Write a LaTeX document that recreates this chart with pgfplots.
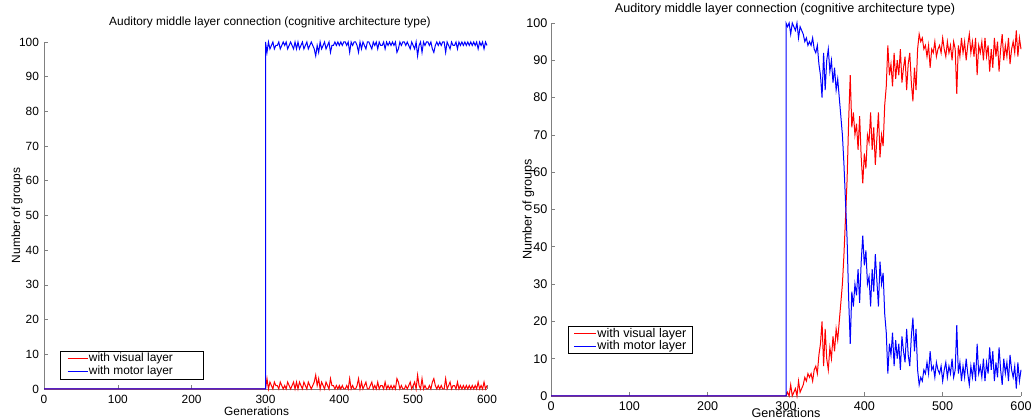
\documentclass[border=0pt]{standalone}
\usepackage{fontspec}
\setmainfont{Liberation Sans}
\usepackage{pgfplots}
\usepackage{pgfplotstable}
\pgfplotsset{compat=1.18}

\pgfplotstableread{
x m v
0 0 0
300 0 0
300 100 0
302 97 3
304 100 0
306 98 2
308 99 1
310 100 0
312 98 2
314 99 1
316 99 1
318 100 0
320 98 2
322 99 1
324 100 0
326 99 1
328 100 0
330 98 2
332 99 1
334 100 0
336 99 1
338 98 2
340 100 0
342 98 2
344 100 0
346 98 2
348 99 1
350 100 0
352 98 2
354 99 1
356 100 0
358 98 2
360 99 1
362 100 0
364 99 1
366 98 2
368 96 4
370 99 1
372 97 3
374 100 0
376 98 2
378 99 1
380 100 0
382 98 2
384 99 1
386 100 0
388 97 3
390 99 1
392 99 1
394 100 0
396 99 1
398 100 0
400 99 1
402 100 0
404 99 1
406 100 0
408 100 0
410 99 1
412 100 0
414 97 3
416 100 0
418 99 1
420 100 0
422 100 0
424 99 1
426 97 3
428 100 0
430 98 2
432 100 0
434 99 1
436 98 2
438 100 0
440 100 0
442 99 1
444 98 2
446 100 0
448 99 1
450 100 0
452 98 2
454 100 0
456 99 1
458 99 1
460 100 0
462 98 2
464 100 0
466 99 1
468 100 0
470 99 1
472 100 0
474 99 1
476 100 0
478 97 3
480 98 2
482 100 0
484 99 1
486 100 0
488 100 0
490 99 1
492 100 0
494 99 1
496 98 2
498 100 0
500 99 1
502 98 2
504 100 0
506 96 4
508 99 1
510 100 0
512 97 3
514 100 0
516 99 1
518 100 0
520 100 0
522 99 1
524 100 0
526 98 2
528 97 3
530 99 1
532 100 0
534 99 1
536 100 0
538 99 1
540 100 0
542 100 0
544 97 3
546 100 0
548 99 1
550 98 2
552 100 0
554 99 1
556 99 1
558 100 0
560 98 2
562 100 0
564 99 1
566 100 0
568 99 1
570 100 0
572 99 1
574 100 0
576 99 1
578 100 0
580 99 1
582 100 0
584 99 1
586 100 0
588 98 2
590 100 0
592 99 1
594 100 0
596 98 2
598 100 0
600 99 1
}\lefttab

\pgfplotstableread{
x m v
0 0 0
300 0 0
300 100 0
302 99 1
304 100 0
306 97 3
308 100 0
310 99 1
312 98 2
314 100 0
316 96 4
318 99 1
320 98 2
322 97 3
324 95 5
326 96 4
328 94 6
330 95 5
332 94 6
334 96 4
336 93 7
338 92 8
340 94 6
342 89 11
344 86 14
346 80 20
348 92 8
350 82 18
352 90 10
354 93 7
356 87 13
358 90 10
360 84 16
362 88 12
364 82 18
366 85 15
368 80 20
370 75 25
372 70 30
374 62 38
376 52 48
378 42 58
380 26 74
382 14 86
384 28 72
386 24 76
388 30 70
390 27 73
392 34 66
394 25 75
396 36 64
398 43 57
400 35 65
402 39 61
404 30 70
406 32 68
408 24 76
410 34 66
412 28 72
414 38 62
416 31 69
418 24 76
420 36 64
422 30 70
424 33 67
426 22 78
428 17 83
430 6 94
432 14 86
434 11 89
436 17 83
438 8 92
440 15 85
442 10 90
444 14 86
446 7 93
448 16 84
450 12 88
452 9 91
454 18 82
456 11 89
458 8 92
460 16 84
462 21 79
464 12 88
466 18 82
468 7 93
470 3 97
472 5 95
474 4 96
476 7 93
478 6 94
480 9 91
482 6 94
484 12 88
486 7 93
488 8 92
490 5 95
492 9 91
494 7 93
496 6 94
498 8 92
500 4 96
502 7 93
504 9 91
506 5 95
508 8 92
510 6 94
512 10 90
514 5 95
516 7 93
518 19 81
520 6 94
522 9 91
524 4 96
526 8 92
528 5 95
530 10 90
532 6 94
534 3 97
536 8 92
538 5 95
540 9 91
542 4 96
544 14 86
546 6 94
548 8 92
550 5 95
552 10 90
554 4 96
556 9 91
558 6 94
560 13 87
562 7 93
564 12 88
566 4 96
568 9 91
570 5 95
572 13 87
574 7 93
576 3 97
578 10 90
580 6 94
582 9 91
584 4 96
586 11 89
588 7 93
590 5 95
592 8 92
594 2 98
596 9 91
598 4 96
600 7 93
}\righttab

\pgfplotsset{
  mstyle/.style={
    scale only axis, anchor=south west,
    xmin=0, xmax=600, ymin=0, ymax=100,
    axis x line=bottom, axis y line=left,
    axis line style={-, black!50},
    tick style={black!50, line width=0.6pt},
    tick align=inside, major tick length=4pt,
    xtick={0,100,...,600}, ytick={0,10,...,100},
    /pgf/number format/assume math mode=true,
    xticklabel style={yshift=-2.5pt},
    clip=false,
    title={Auditory middle layer connection (cognitive architecture type)},
    xlabel={Generations}, ylabel={Number of groups},
    legend cell align=left,
  },
}

\begin{document}
\begin{tikzpicture}
\useasboundingbox (0,0) rectangle (1033pt,419pt);
\begin{axis}[mstyle,
  at={(44pt,30pt)}, width=443pt, height=347pt,
  yticklabel style={xshift=-1.5pt},
  tick label style={font=\fontsize{11.9}{14}\selectfont},
  label style={font=\fontsize{11.9}{14}\selectfont},
  title style={font=\fontsize{11.9}{14}\selectfont, at={(axis description cs:0.51,1.04)}, anchor=center},
  xlabel style={at={(axis description cs:0.48,-0.063)}, anchor=center},
  ylabel style={at={(axis description cs:-0.061,0.5)}, anchor=center, rotate=0},
  legend image code/.code={\draw[#1] (0pt,0pt) -- (20pt,0pt);},
  legend style={at={(axis description cs:0.036,0.029)}, anchor=south west, draw, fill=white,
    font=\fontsize{11.9}{14}\selectfont, inner xsep=7pt, inner ysep=1.5pt, row sep=1.5pt,
    nodes={inner sep=0.8pt}, /tikz/column 2/.style={column sep=5pt}},
]
\addplot[red, line width=1pt] table[x=x, y=v] {\lefttab};
\addlegendentry{\makebox[106pt][l]{with visual layer}}
\addplot[blue, line width=1pt] table[x=x, y=m] {\lefttab};
\addlegendentry{\makebox[106pt][l]{with motor layer}}
\end{axis}
\begin{axis}[mstyle,
  at={(551pt,23pt)}, width=470pt, height=373pt,
  tick label style={font=\fontsize{12.6}{15}\selectfont},
  label style={font=\fontsize{12.6}{15}\selectfont},
  title style={font=\fontsize{12.6}{15}\selectfont, at={(axis description cs:0.498,1.021)}, anchor=center},
  xlabel style={at={(axis description cs:0.50,-0.046)}, anchor=center},
  ylabel style={at={(axis description cs:-0.048,0.5)}, anchor=center, rotate=0},
  legend image code/.code={\draw[#1] (0pt,0pt) -- (22pt,0pt);},
  legend style={at={(axis description cs:0.036,0.113)}, anchor=south west, draw, fill=white,
    font=\fontsize{12.6}{15}\selectfont, inner xsep=5.5pt, inner ysep=1.5pt, row sep=0pt,
    nodes={inner sep=0.8pt}, /tikz/column 2/.style={column sep=6pt}},
]
\addplot[red, line width=1pt] table[x=x, y=v] {\righttab};
\addlegendentry{with visual layer}
\addplot[blue, line width=1pt] table[x=x, y=m] {\righttab};
\addlegendentry{with motor layer}
\end{axis}
\end{tikzpicture}
\end{document}
